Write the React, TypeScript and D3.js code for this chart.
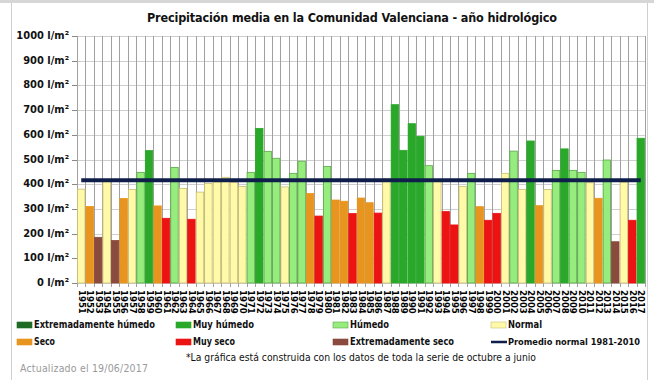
import * as d3 from "d3"

// hydrological years shown on the x axis
const years = [
  1951, 1952, 1953, 1954, 1955, 1956, 1957, 1958, 1959, 1960,
  1961, 1962, 1963, 1964, 1965, 1966, 1967, 1968, 1969, 1970,
  1971, 1972, 1973, 1974, 1975, 1976, 1977, 1978, 1979, 1980,
  1981, 1982, 1983, 1984, 1985, 1986, 1987, 1988, 1989, 1990,
  1991, 1992, 1993, 1994, 1995, 1996, 1997, 1998, 1999, 2000,
  2001, 2002, 2003, 2004, 2005, 2006, 2007, 2008, 2009, 2010,
  2011, 2012, 2013, 2014, 2015, 2016, 2017,
]

// precipitation in l/m2
const precip = [
  380, 310, 185, 412, 172, 342, 379, 448, 536, 312,
  262, 468, 383, 258, 368, 403, 410, 428, 408, 391,
  448, 626, 533, 505, 389, 444, 493, 362, 271, 472,
  336, 331, 281, 344, 325, 283, 422, 722, 537, 645,
  594, 475, 415, 289, 235, 391, 444, 309, 254, 282,
  444, 534, 379, 575, 313, 379, 456, 543, 456, 448,
  406, 343, 498, 167, 409, 254, 586,
]

// class of each year: EH ext. humid, MH very humid, H humid, N normal, S dry, MS very dry, ES ext. dry
const klass = [
  "N", "S", "ES", "N", "ES", "S", "N", "H", "MH", "S",
  "MS", "H", "N", "MS", "N", "N", "N", "N", "N", "N",
  "H", "MH", "H", "H", "N", "H", "H", "S", "MS", "H",
  "S", "S", "MS", "S", "S", "MS", "N", "MH", "MH", "MH",
  "MH", "H", "N", "MS", "MS", "N", "H", "S", "MS", "MS",
  "N", "H", "N", "MH", "S", "N", "H", "MH", "H", "H",
  "N", "S", "H", "ES", "N", "MS", "MH",
]

const normalMean = 416
const yTicks = [0, 100, 200, 300, 400, 500, 600, 700, 800, 900, 1000]

const fills: Record<string, string> = {
  EH: "#1f6b26",
  MH: "#2aa82a",
  H: "#96ec7c",
  N: "#fff9a8",
  S: "#e8951f",
  MS: "#ec1313",
  ES: "#8a4a3e",
}
const strokes: Record<string, string> = {
  EH: "#1f6b26",
  MH: "#2aa82a",
  H: "#5aa84a",
  N: "#c8be78",
  S: "#e8951f",
  MS: "#ec1313",
  ES: "#8a4a3e",
}

// w = width of the label in the reference
const legendItems = [
  { key: "EH", label: "Extremadamente húmedo", col: 0, row: 0, w: 121 },
  { key: "MH", label: "Muy húmedo", col: 1, row: 0, w: 61 },
  { key: "H", label: "Húmedo", col: 2, row: 0, w: 39 },
  { key: "N", label: "Normal", col: 3, row: 0, w: 34 },
  { key: "S", label: "Seco", col: 0, row: 1, w: 21 },
  { key: "MS", label: "Muy seco", col: 1, row: 1, w: 42 },
  { key: "ES", label: "Extremadamente seco", col: 2, row: 1, w: 104 },
  { key: "LINE", label: "Promedio normal 1981-2010", col: 3, row: 1, w: 132 },
]

const W = 654
const H = 385
const font = "'DejaVu Sans Condensed', 'DejaVu Sans', sans-serif"

export default function App() {
  const x = d3
    .scaleBand<string>()
    .domain(years.map(String))
    .range([77, 645])
    .paddingInner(0.12)
    .paddingOuter(0.06)
  const step = x.step()
  const y = d3.scaleLinear().domain([0, 1000]).range([283, 36])

  const legendX = [17, 176, 333, 491]
  const legendY = [325, 342]

  const first = x(String(years[0]))! + x.bandwidth() / 2
  const last = x(String(years[years.length - 1]))! + x.bandwidth() / 2

  return (
    <svg
      width={W}
      height={H}
      style={{ position: "absolute", left: 0, top: 0, display: "block", background: "#fff" }}
      fontFamily={font}
    >
      {/* frame */}
      <rect x={0} y={0} width={W} height={3} fill="#d6d6d6" />
      <line x1={11.5} x2={11.5} y1={3} y2={380} stroke="#d0d0d0" />
      <line x1={647.5} x2={647.5} y1={3} y2={380} stroke="#d0d0d0" />

      <text x={352} y={22} textAnchor="middle" fontSize={12.5} fontWeight="bold" fill="#111" textLength={410}>
        Precipitación media en la Comunidad Valenciana - año hidrológico
      </text>

      {/* horizontal grid */}
      {yTicks.map((t) => (
        <g key={t}>
          <line x1={72} x2={645} y1={Math.round(y(t)) + 0.5} y2={Math.round(y(t)) + 0.5} stroke="#cfcfcf" />
          <line x1={72} x2={77} y1={Math.round(y(t)) + 0.5} y2={Math.round(y(t)) + 0.5} stroke="#888" />
          <text x={69} y={y(t)} textAnchor="end" dominantBaseline="middle" fontSize={11} fontWeight="bold" fill="#111">
            {t} l/m²
          </text>
        </g>
      ))}

      {/* vertical grid */}
      {years.map((yr, i) => {
        const gx = Math.round(77 + i * step) + 0.5
        return <line key={yr} x1={gx} x2={gx} y1={36} y2={287} stroke="#a0a0a0" />
      })}
      <line x1={645.5} x2={645.5} y1={36} y2={287} stroke="#a0a0a0" />

      {/* bars */}
      {years.map((yr, i) => (
        <rect
          key={yr}
          x={x(String(yr))!}
          y={y(precip[i])}
          width={x.bandwidth()}
          height={y(0) - y(precip[i])}
          fill={fills[klass[i]]}
          stroke={strokes[klass[i]]}
          strokeWidth={0.8}
        />
      ))}

      {/* 1981-2010 normal */}
      <line x1={first} x2={last} y1={y(normalMean)} y2={y(normalMean)} stroke="#0f1e4a" strokeWidth={4} />

      {/* x labels */}
      {years.map((yr) => {
        const cx = x(String(yr))! + x.bandwidth() / 2
        return (
          <text
            key={yr}
            transform={`translate(${cx},290) rotate(90)`}
            dominantBaseline="middle"
            fontSize={9.5}
            fontWeight="bold"
            fill="#000"
          >
            {yr}
          </text>
        )
      })}

      {/* legend */}
      {legendItems.map((d) => {
        const lx = legendX[d.col]
        const ly = legendY[d.row]
        return (
          <g key={d.key}>
            {d.key === "LINE" ? (
              <line x1={lx} x2={lx + 16} y1={ly} y2={ly} stroke="#0f1e4a" strokeWidth={2.5} />
            ) : (
              <rect x={lx} y={ly - 3} width={15} height={6} fill={fills[d.key]} stroke={strokes[d.key]} strokeWidth={0.6} />
            )}
            <text
              x={lx + 17}
              y={ly}
              dominantBaseline="middle"
              fontSize={d.key === "LINE" ? 9.5 : 10.5}
              fontWeight="bold"
              fill="#111"
              textLength={d.w}
              lengthAdjust="spacingAndGlyphs"
            >
              {d.label}
            </text>
          </g>
        )
      })}

      <text x={20} y={369} dominantBaseline="middle" fontSize={10.5} fill="#9a9a9a" textLength={128}>
        Actualizado el  19/06/2017
      </text>
      <text
        x={186}
        y={358}
        dominantBaseline="middle"
        fontSize={10.5}
        fill="#111"
        textLength={350}
        lengthAdjust="spacingAndGlyphs"
      >
        *La gráfica está construida con los datos de toda la serie de octubre a junio
      </text>
    </svg>
  )
}
